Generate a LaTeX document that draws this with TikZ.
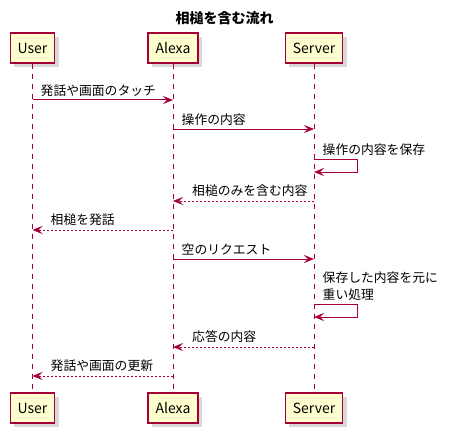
\documentclass[tikz,border=0pt]{standalone}
\usepackage{fontspec}
\setmainfont{Noto Sans CJK JP}
\usetikzlibrary{arrows.meta,shadows}
\definecolor{umlred}{HTML}{A80036}
\definecolor{umlfill}{HTML}{FEFECE}

\begin{document}
\begin{tikzpicture}[x=1pt,y=-1pt,
part/.style={draw=umlred,line width=1.2pt,fill=umlfill,minimum height=30pt,inner xsep=7.5pt,
  font=\fontsize{14}{16}\selectfont,drop shadow={shadow xshift=4pt,shadow yshift=-4pt,opacity=0.3}},
life/.style={umlred,line width=1pt,dash pattern=on 5pt off 5pt},
msg/.style={umlred,line width=1pt,-{Stealth[length=10pt,width=8pt,inset=4pt]}},
ret/.style={msg,dash pattern=on 2pt off 2pt},
lbl/.style={font=\fontsize{12.8}{17}\selectfont,anchor=west,inner sep=0pt,align=left}]
\useasboundingbox (0,0) rectangle (449,433);

\node[font=\bfseries\fontsize{14}{16}\selectfont] (Title) at (224.5,18) {相槌を含む流れ};

\node[part] (UserTop) at (32.5,48) {User};
\node[part] (AlexaTop) at (173,48) {Alexa};
\node[part] (ServerTop) at (314,48) {Server};
\node[part] (UserBot) at (32.5,408) {User};
\node[part] (AlexaBot) at (173,408) {Alexa};
\node[part] (ServerBot) at (314,408) {Server};

\draw[life] (UserTop) -- (UserBot);
\draw[life] (AlexaTop) -- (AlexaBot);
\draw[life] (ServerTop) -- (ServerBot);

\draw[msg] (UserTop |- 0,100) -- (AlexaTop |- 0,100);
\node[lbl] (m1) at (40.5,90.5) {発話や画面のタッチ};

\draw[msg] (AlexaTop |- 0,129) -- (ServerTop |- 0,129);
\node[lbl] (m2) at (181.5,119.5) {操作の内容};

\draw[msg] (ServerTop |- 0,159) -- ++(43,0) -- ++(0,13) -- (ServerTop |- 0,172);
\node[lbl] (m3) at (322.5,149.5) {操作の内容を保存};

\draw[ret] (ServerTop |- 0,201) -- (AlexaTop |- 0,201);
\node[lbl] (m4) at (192,191) {相槌のみを含む内容};

\draw[ret] (AlexaTop |- 0,230) -- (UserTop |- 0,230);
\node[lbl] (m5) at (50.5,220) {相槌を発話};

\draw[msg] (AlexaTop |- 0,259) -- (ServerTop |- 0,259);
\node[lbl] (m6) at (181.5,249) {空のリクエスト};

\draw[msg] (ServerTop |- 0,304) -- ++(43,0) -- ++(0,13) -- (ServerTop |- 0,317);
\node[lbl] (m7) at (322.5,286.5) {保存した内容を元に\\重い処理};

\draw[ret] (ServerTop |- 0,347) -- (AlexaTop |- 0,347);
\node[lbl] (m8) at (192,337) {応答の内容};

\draw[ret] (AlexaTop |- 0,376) -- (UserTop |- 0,376);
\node[lbl] (m9) at (50.5,366) {発話や画面の更新};
\end{tikzpicture}
\end{document}
